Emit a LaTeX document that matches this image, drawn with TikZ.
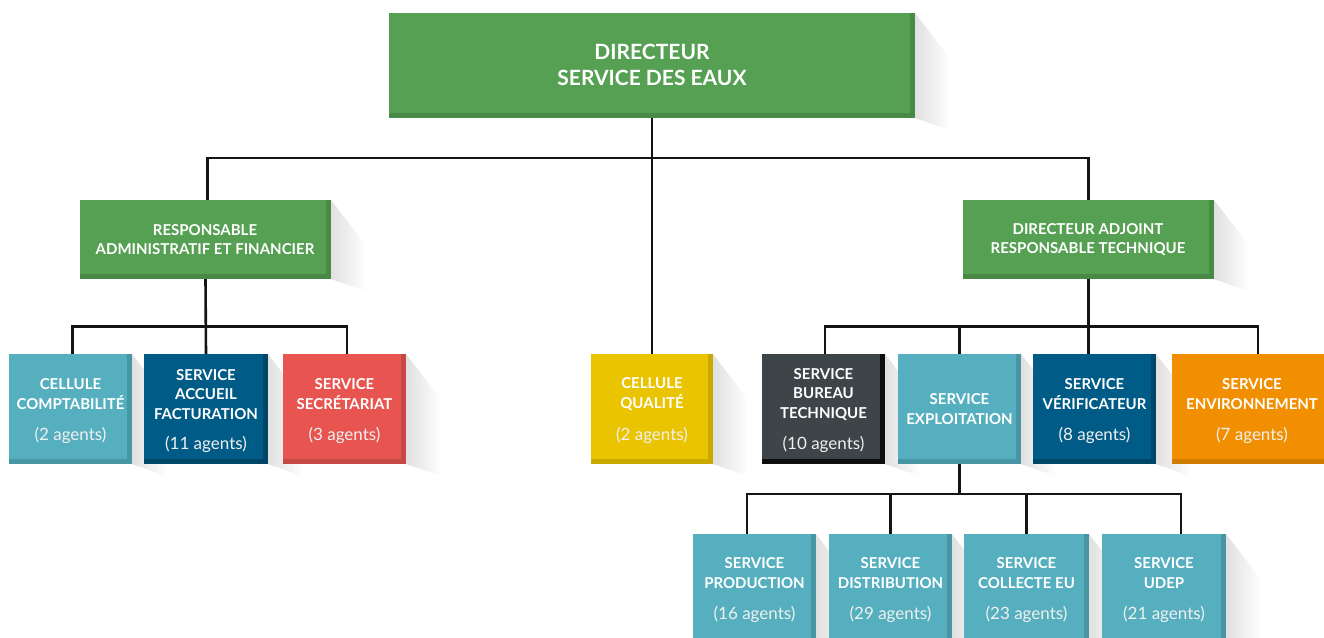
\documentclass[tikz,border=0pt]{standalone}
\usepackage{fontspec}
\setmainfont{Lato}
\definecolor{cgreen}{RGB}{85,160,82}
\definecolor{cgreenS}{RGB}{72,137,69}
\definecolor{cteal}{RGB}{85,175,191}
\definecolor{ctealS}{RGB}{72,150,163}
\definecolor{cnavy}{RGB}{0,92,135}
\definecolor{cnavyS}{RGB}{0,70,104}
\definecolor{cred}{RGB}{232,84,79}
\definecolor{credS}{RGB}{198,72,68}
\definecolor{cyellow}{RGB}{234,196,0}
\definecolor{cyellowS}{RGB}{201,168,0}
\definecolor{cdark}{RGB}{61,69,72}
\definecolor{cdarkS}{RGB}{15,15,15}
\definecolor{corange}{RGB}{241,143,0}
\definecolor{corangeS}{RGB}{208,124,0}
\tikzset{
  orgbox/.style={rectangle, inner sep=0pt, outer sep=0pt, draw=none},
  conn/.style={line width=2.6pt, draw=black!92},
  shadowpart/.style={fill=black, fill opacity=0.013, draw=none},
  head/.style={text=white, font=\bfseries\fontsize{15}{19.5}\selectfont, align=center, inner sep=0pt},
  bighead/.style={text=white, font=\bfseries\fontsize{21}{26}\selectfont, align=center, inner sep=0pt},
  agents/.style={text=white!94!black, font=\fontsize{17}{20}\selectfont, inner sep=0pt},
}
% name, x1, y1, x2, y2, fill, strip
\newcommand{\orgbox}[7]{%
  \foreach \k in {1,...,10}{%
    \fill[shadowpart] (#4,#3) -- (#4+3.4*\k,#3+4.4*\k) -- (#4+3.4*\k,#5+1.2*\k) -- (#4,#5) -- cycle;
  }
  \node[orgbox, fill=#6, minimum width={(#4-#2)*1pt}, minimum height={(#5-#3)*1pt}] (#1) at ({(#2+#4)/2},{(#3+#5)/2}) {};
  \fill[#7] ([xshift=-5pt]#1.north east) rectangle (#1.south east);
  \fill[#7] ([yshift=5pt]#1.south west) rectangle (#1.south east);
}
\begin{document}
\begin{tikzpicture}[x=1pt,y=-1pt]
\clip (0,0) rectangle (1324,637);
\useasboundingbox (0,0) rectangle (1324,637);
\fill[white] (0,0) rectangle (1324,637);

% boxes
\orgbox{top}{389}{13}{915}{118}{cgreen}{cgreenS}
\orgbox{raf}{80}{200}{331}{279}{cgreen}{cgreenS}
\orgbox{da}{963}{200}{1214}{279}{cgreen}{cgreenS}
\orgbox{compta}{9}{354}{132}{464}{cteal}{ctealS}
\orgbox{accueil}{144}{354}{268}{464}{cnavy}{cnavyS}
\orgbox{secr}{283}{354}{406}{464}{cred}{credS}
\orgbox{qual}{591}{354}{713}{464}{cyellow}{cyellowS}
\orgbox{bureau}{762}{354}{885}{464}{cdark}{cdarkS}
\orgbox{expl}{898}{354}{1021}{464}{cteal}{ctealS}
\orgbox{verif}{1033}{354}{1156}{464}{cnavy}{cnavyS}
\orgbox{env}{1172}{354}{1332}{464}{corange}{corangeS}
\orgbox{prod}{693}{534}{816}{650}{cteal}{ctealS}
\orgbox{dist}{829}{534}{952}{650}{cteal}{ctealS}
\orgbox{coll}{964}{534}{1089}{650}{cteal}{ctealS}
\orgbox{udep}{1102}{534}{1226}{650}{cteal}{ctealS}

% texts
\node[bighead] (top-h) at (652,65) {DIRECTEUR\\SERVICE DES EAUX};
\node[head] (raf-h) at (205,239.5) {RESPONSABLE\\ADMINISTRATIF ET FINANCIER};
\node[head] (da-h) at (1088,239.5) {DIRECTEUR ADJOINT\\RESPONSABLE TECHNIQUE};

\node[head] (compta-h) at (70.5,394) {CELLULE\\COMPTABILITÉ};
\node[agents] (compta-a) at (70.5,435) {(2 agents)};
\node[head] (accueil-h) at (206,394.5) {SERVICE\\ACCUEIL\\FACTURATION};
\node[agents] (accueil-a) at (206,444) {(11 agents)};
\node[head] (secr-h) at (344.5,394) {SERVICE\\SECRÉTARIAT};
\node[agents] (secr-a) at (344.5,435) {(3 agents)};
\node[head] (qual-h) at (652,394) {CELLULE\\QUALITÉ};
\node[agents] (qual-a) at (652,435) {(2 agents)};
\node[head] (bureau-h) at (823.5,394.5) {SERVICE\\BUREAU\\TECHNIQUE};
\node[agents] (bureau-a) at (823.5,444) {(10 agents)};
\node[head] (expl-h) at (959.5,409) {SERVICE\\EXPLOITATION};
\node[head] (verif-h) at (1094.5,394) {SERVICE\\VÉRIFICATEUR};
\node[agents] (verif-a) at (1094.5,435) {(8 agents)};
\node[head] (env-h) at (1252,394) {SERVICE\\ENVIRONNEMENT};
\node[agents] (env-a) at (1252,435) {(7 agents)};

\node[head] (prod-h) at (754.5,573) {SERVICE\\PRODUCTION};
\node[agents] (prod-a) at (754.5,614) {(16 agents)};
\node[head] (dist-h) at (890.5,573) {SERVICE\\DISTRIBUTION};
\node[agents] (dist-a) at (890.5,614) {(29 agents)};
\node[head] (coll-h) at (1026.5,573) {SERVICE\\COLLECTE EU};
\node[agents] (coll-a) at (1026.5,614) {(23 agents)};
\node[head] (udep-h) at (1164,573) {SERVICE\\UDEP};
\node[agents] (udep-a) at (1164,614) {(21 agents)};

% connectors
\coordinate (j0) at (652,158);
\coordinate (j1) at (206,326.5);
\coordinate (j2) at (1088,326.5);
\coordinate (j3) at (959.5,494);

\draw[conn] (top.south) -- (qual.north);
\draw[conn] ([xshift=2pt]raf.north) |- (j0) -| (da.north);

\draw[conn] (raf.south) -- (accueil.north);
\draw[conn] ([xshift=2pt]compta.north) |- (j1) -| ([xshift=2.5pt]secr.north);

\draw[conn] (da.south) -- (da.south |- verif.north);
\draw[conn] ([xshift=1.5pt]bureau.north) |- (j2) -| ([xshift=6pt]env.north);
\draw[conn] (expl.north) -- (expl.north |- j2);

\draw[conn] (expl.south) -- (j3);
\draw[conn] ([xshift=-7.5pt]prod.north) |- (j3) -| ([xshift=17pt]udep.north);
\draw[conn] (dist.north) -- (dist.north |- j3);
\draw[conn] (coll.north) -- (coll.north |- j3);
\end{tikzpicture}
\end{document}
